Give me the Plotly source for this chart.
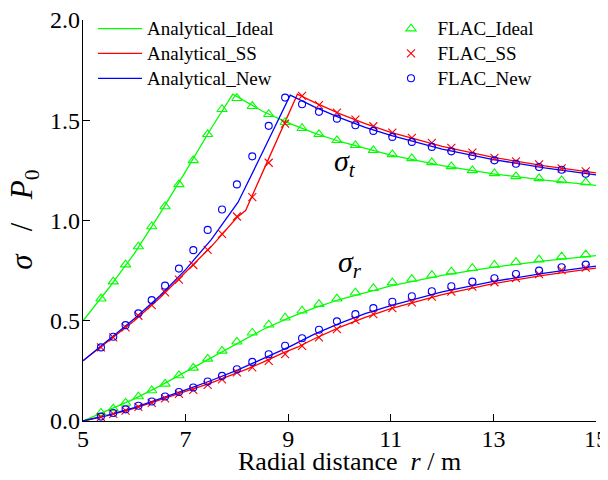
import plotly.graph_objects as go

# ---------------- data ----------------
# FLAC sample radii
r_flac = [5.35, 5.59, 5.83, 6.08, 6.34, 6.60, 6.87, 7.15, 7.43, 7.71, 8.00, 8.30, 8.62, 8.94, 9.27,
          9.60, 9.95, 10.31, 10.66, 11.03, 11.41, 11.80, 12.18, 12.59, 13.02, 13.44, 13.89, 14.33, 14.80]

flac_ideal_t = [0.61, 0.695, 0.78, 0.87, 0.97, 1.07, 1.18, 1.30, 1.43, 1.555, 1.61, 1.57, 1.53, 1.49, 1.46,
                1.43, 1.40, 1.375, 1.35, 1.33, 1.31, 1.29, 1.27, 1.25, 1.235, 1.22, 1.21, 1.20, 1.19]
flac_ideal_r = [0.04, 0.062, 0.09, 0.122, 0.152, 0.185, 0.227, 0.265, 0.31, 0.35, 0.395, 0.44, 0.48, 0.515, 0.55,
                0.583, 0.61, 0.64, 0.662, 0.69, 0.708, 0.728, 0.745, 0.762, 0.778, 0.792, 0.805, 0.82, 0.83]

flac_ss_t = [0.367, 0.417, 0.467, 0.525, 0.578, 0.642, 0.705, 0.778, 0.853, 0.933, 1.02, 1.117, 1.288, 1.483, 1.622,
             1.575, 1.538, 1.503, 1.47, 1.438, 1.412, 1.387, 1.362, 1.338, 1.312, 1.295, 1.28, 1.26, 1.245]
flac_ss_r = [0.02, 0.035, 0.052, 0.07, 0.09, 0.113, 0.135, 0.155, 0.18, 0.208, 0.242, 0.267, 0.30, 0.333, 0.375,
             0.417, 0.458, 0.503, 0.533, 0.563, 0.592, 0.62, 0.645, 0.67, 0.692, 0.713, 0.733, 0.752, 0.765]

flac_new_t = [0.367, 0.42, 0.478, 0.537, 0.603, 0.675, 0.76, 0.852, 0.953, 1.055, 1.18, 1.32, 1.472, 1.613, 1.58,
              1.542, 1.508, 1.475, 1.447, 1.417, 1.392, 1.367, 1.345, 1.322, 1.30, 1.283, 1.267, 1.253, 1.233]
flac_new_r = [0.022, 0.04, 0.058, 0.076, 0.097, 0.122, 0.145, 0.167, 0.197, 0.225, 0.258, 0.295, 0.333, 0.375, 0.413,
              0.455, 0.497, 0.533, 0.563, 0.595, 0.622, 0.647, 0.672, 0.695, 0.712, 0.733, 0.75, 0.767, 0.78]

# Analytical curves
r_ideal = [5.0, 5.5, 6.0, 6.5, 7.0, 7.5, 7.92, 8.5, 9.0, 9.5, 10.0, 11.0, 12.0, 13.0, 14.0, 15.0]
ideal_t = [0.50, 0.662, 0.835, 1.034, 1.245, 1.46, 1.63, 1.545, 1.487, 1.437, 1.394, 1.326, 1.274, 1.233, 1.201, 1.175]
ideal_r = [0.0, 0.053, 0.11, 0.175, 0.245, 0.315, 0.372, 0.455, 0.513, 0.563, 0.606, 0.674, 0.726, 0.767, 0.799, 0.825]

r_ss = [5.0, 5.5, 6.0, 6.5, 7.0, 7.5, 8.0, 8.17, 8.5, 8.9, 9.18, 9.5, 10.0, 10.5, 11.0, 12.0, 13.0, 14.0, 15.0]
ss_t = [0.30, 0.40, 0.50, 0.615, 0.74, 0.87, 1.015, 1.05, 1.24, 1.47, 1.63, 1.59, 1.533, 1.483, 1.44, 1.37, 1.315, 1.272, 1.237]
ss_r = [0.0, 0.028, 0.063, 0.105, 0.148, 0.19, 0.24, 0.256, 0.292, 0.34, 0.368, 0.409, 0.467, 0.517, 0.56, 0.630, 0.685, 0.728, 0.763]

r_new = [5.0, 5.5, 6.0, 6.5, 7.0, 7.5, 8.02, 8.5, 9.04, 9.5, 10.0, 10.5, 11.0, 12.0, 13.0, 14.0, 15.0]
new_t = [0.30, 0.405, 0.51, 0.625, 0.755, 0.905, 1.09, 1.34, 1.625, 1.568, 1.513, 1.465, 1.424, 1.356, 1.304, 1.262, 1.228]
new_r = [0.0, 0.03, 0.067, 0.11, 0.155, 0.202, 0.255, 0.31, 0.372, 0.432, 0.487, 0.535, 0.576, 0.644, 0.696, 0.738, 0.772]

x_ticks = [5, 7, 9, 11, 13, 15]
y_ticks = [0.0, 0.5, 1.0, 1.5, 2.0]
y_ticktext = ["0.0", "0.5", "1.0", "1.5", "2.0"]

GREEN = "#00ff00"
RED = "#ff0000"
BLUE = "#0000ff"
FONT = "Liberation Serif, Times New Roman, serif"
LEG_TXT = '<span style="font-size:19px">{}</span>'

fig = go.Figure()

# analytical lines (legend 1)
for name, rr, tt, ss, col in [("Analytical_Ideal", r_ideal, ideal_t, ideal_r, GREEN),
                             ("Analytical_SS", r_ss, ss_t, ss_r, RED),
                             ("Analytical_New", r_new, new_t, new_r, BLUE)]:
    fig.add_trace(go.Scatter(x=rr, y=tt, mode="lines", name=LEG_TXT.format(name), legendgroup=name,
                             line=dict(color=col, width=1.3), legend="legend"))
    fig.add_trace(go.Scatter(x=rr, y=ss, mode="lines", name=LEG_TXT.format(name), legendgroup=name,
                             showlegend=False, line=dict(color=col, width=1.3), legend="legend"))

# FLAC markers (legend 2)
for name, tt, ss, col, sym, size in [("FLAC_Ideal", flac_ideal_t, flac_ideal_r, GREEN, "triangle-up-open", 9),
                                     ("FLAC_SS", flac_ss_t, flac_ss_r, RED, "x-thin-open", 8),
                                     ("FLAC_New", flac_new_t, flac_new_r, BLUE, "circle-open", 7)]:
    mk = dict(symbol=sym, size=size, color=col, line=dict(color=col, width=1.1))
    fig.add_trace(go.Scatter(x=r_flac, y=tt, mode="markers", name=LEG_TXT.format(name), legendgroup=name,
                             marker=mk, legend="legend2"))
    fig.add_trace(go.Scatter(x=r_flac, y=ss, mode="markers", name=LEG_TXT.format(name), legendgroup=name,
                             showlegend=False, marker=mk, legend="legend2"))

axis_common = dict(showline=True, linecolor="black", linewidth=1.3, ticks="inside", ticklen=7,
                   tickwidth=1.3, tickcolor="black", showgrid=False, zeroline=False,
                   ticklabeloverflow="allow",
                   tickfont=dict(family=FONT, size=24, color="black"))

NB = "\u00a0"
fig.update_layout(
    width=600, height=472,
    margin=dict(l=75, r=12, t=12, b=59, autoexpand=False),
    plot_bgcolor="white", paper_bgcolor="white",
    font=dict(family=FONT, color="black"),
    xaxis=dict(range=[5, 15], tickvals=x_ticks, ticklabelstandoff=-4, **axis_common),
    yaxis=dict(range=[0, 2], tickvals=y_ticks, ticktext=y_ticktext, ticklabelstandoff=-3, **axis_common),
    legend=dict(x=0.0195, y=1.022, xanchor="left", yanchor="top", bgcolor="rgba(0,0,0,0)",
                font=dict(family=FONT, size=16.8), tracegroupgap=0, itemwidth=44),
    legend2=dict(x=0.5877, y=1.022, xanchor="left", yanchor="top", bgcolor="rgba(0,0,0,0)",
                 font=dict(family=FONT, size=16.8), tracegroupgap=0, itemwidth=43),
    annotations=[
        dict(text="Radial distance" + NB + NB + "<i>r</i> / m", xref="paper", yref="paper", x=0.52, y=-0.102,
             xanchor="center", yanchor="middle", showarrow=False, font=dict(family=FONT, size=26)),
        dict(text="<i>σ</i>" + NB * 3 + "/" + NB * 3 + "<i>P</i><sub>0</sub>", xref="paper", yref="paper",
             x=-0.115, y=0.502, xanchor="center", yanchor="middle", textangle=-90, showarrow=False,
             font=dict(family=FONT, size=31)),
        dict(text="<i>σ</i><sub><i>t</i></sub>", xref="x", yref="y", x=10.1, y=1.285,
             xanchor="center", yanchor="middle", showarrow=False, font=dict(family=FONT, size=30)),
        dict(text="<i>σ</i><sub><i>r</i></sub>", xref="x", yref="y", x=10.2, y=0.785,
             xanchor="center", yanchor="middle", showarrow=False, font=dict(family=FONT, size=30)),
    ],
)

fig.write_html("out.html")
